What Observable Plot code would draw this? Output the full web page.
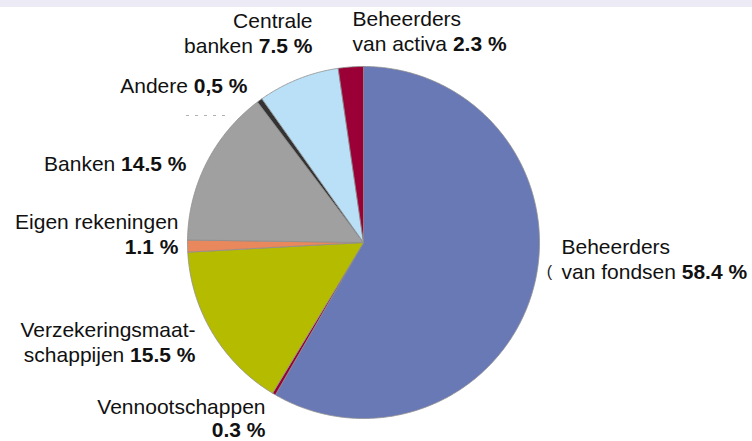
<!DOCTYPE html>
<html><head><meta charset="utf-8">
<script src="https://cdn.jsdelivr.net/npm/d3@7"></script>
<script src="https://cdn.jsdelivr.net/npm/@observablehq/plot@0.6"></script>
<style>
html,body{margin:0;padding:0;background:linear-gradient(#ECEBF5 0 7px,#ffffff 7px);}
#chart{width:752px;height:441px;}
</style></head><body><div id="chart"></div>
<script>
// ---- data (clockwise from 12 o'clock) ----
const categories = ["Beheerders van fondsen","Vennootschappen","Verzekeringsmaatschappijen","Eigen rekeningen","Banken","Andere","Centrale banken","Beheerders van activa"];
const shares = [58.4, 0.3, 15.5, 1.1, 14.5, 0.5, 7.5, 2.3];
const shareLabels = ["58.4 %","0.3 %","15.5 %","1.1 %","14.5 %","0,5 %","7.5 %","2.3 %"];
const labelLines = [["Beheerders","van fondsen"],["Vennootschappen",""],["Verzekeringsmaat-","schappijen"],["Eigen rekeningen",""],["Banken"],["Andere"],["Centrale","banken"],["Beheerders","van activa"]];
const sliceColors = ["#6979b6","#9b0035","#b5bc00","#e8885c","#a0a0a0","#333333","#b9e0f7","#9a0036"];

// ---- layout ----
const W = 752, H = 441, cx = 363, cy = 242, R = 176;
const FS = 21, LH = 25;
const labelLayout = [
  {x:561, y:253, anchor:"start", lh:25},
  {x:265, y:413, anchor:"end", lh:23},
  {x:195, y:336, anchor:"end", lh:25},
  {x:178, y:228, anchor:"end", lh:25},
  {x:186, y:170, anchor:"end", lh:25},
  {x:247, y:92,  anchor:"end", lh:25},
  {x:312, y:27,  anchor:"end", lh:25},
  {x:352, y:25,  anchor:"start", lh:25}
];

// pie polygons from shares
const total = d3.sum(shares);
const pts = [];
let cum = 0;
shares.forEach((v, i) => {
  const a0 = cum / total * 2 * Math.PI; cum += v;
  const a1 = cum / total * 2 * Math.PI;
  const n = Math.max(2, Math.ceil((a1 - a0) / (Math.PI / 360)));
  pts.push({i, x: cx, y: cy});
  for (let k = 0; k <= n; k++) {
    const a = a0 + (a1 - a0) * k / n;
    pts.push({i, x: cx + R * Math.sin(a), y: cy - R * Math.cos(a)});
  }
  pts.push({i, x: cx, y: cy});
});

// label lines
const texts = [];
labelLines.forEach((lines, i) => {
  const L = labelLayout[i];
  lines.forEach((s, j) => {
    const last = j === lines.length - 1;
    const t = last ? (s ? s + " " : "") + "|" + shareLabels[i] : s;
    texts.push({text: t, x: L.x, y: L.y + j * L.lh - FS * 0.32, anchor: L.anchor});
  });
});

const chart = Plot.plot({
  width: W, height: H, margin: 0,
  style: {background: "transparent", fontFamily: "'Liberation Sans', Arial, sans-serif"},
  x: {domain: [0, W], range: [0, W], axis: null},
  y: {domain: [0, H], range: [0, H], axis: null},
  color: {type: "identity"},
  marks: [
    Plot.line(pts, {x: "x", y: "y", z: "i", fill: d => sliceColors[d.i], stroke: "#8e8e8e", strokeWidth: 0.8, strokeLinejoin: "round"}),
    Plot.ruleY([115], {x1: 186, x2: 229, stroke: "#b0b0b0", strokeWidth: 1, strokeDasharray: "3,6"}),
    Plot.text(["("], {x: [549], y: [271], fontSize: 16, fill: "#222"}),
    Plot.text(texts.filter(d => d.anchor === "end"), {x: "x", y: "y", text: "text", textAnchor: "end", fontSize: FS, fill: "#111", lineAnchor: "middle"}),
    Plot.text(texts.filter(d => d.anchor === "start"), {x: "x", y: "y", text: "text", textAnchor: "start", fontSize: FS, fill: "#111", lineAnchor: "middle"})
  ]
});

d3.select(chart).selectAll("text").each(function() {
  const t = this.textContent;
  if (t.includes("|")) {
    const [a, b] = t.split("|");
    const sel = d3.select(this);
    sel.text(null);
    if (a) sel.append("tspan").text(a);
    sel.append("tspan").attr("font-weight", "bold").text(b);
  }
});

document.getElementById("chart").append(chart);
</script></body></html>
